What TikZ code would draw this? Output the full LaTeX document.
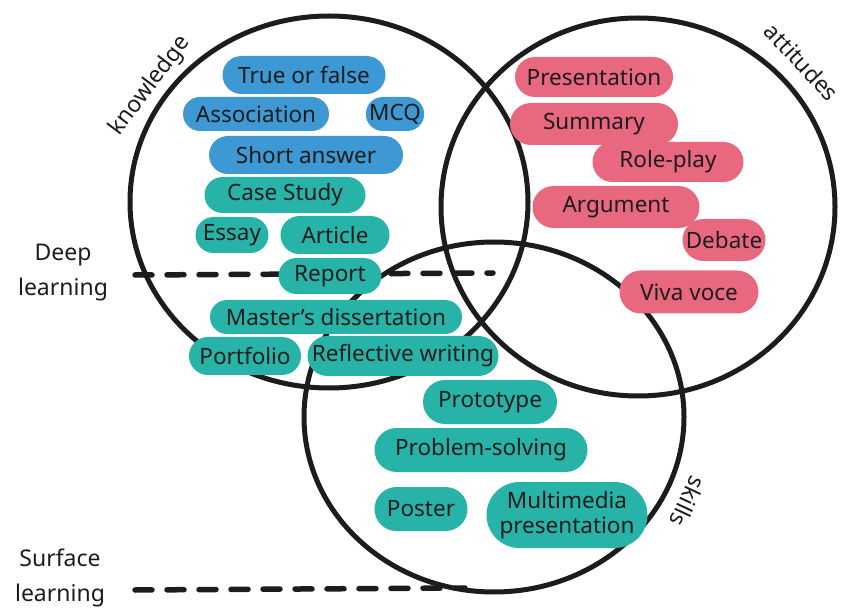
\documentclass[tikz,border=0pt]{standalone}
\usepackage{fontspec}
\setmainfont{Noto Sans}
\usetikzlibrary{shapes.misc,shapes.geometric}
\definecolor{ink}{HTML}{1C1C1C}
\definecolor{pblue}{HTML}{3E98D3}
\definecolor{pteal}{HTML}{27B3A7}
\definecolor{ppink}{HTML}{E8687F}
\begin{document}
\begin{tikzpicture}[x=1pt,y=-1pt,
  ring/.style={draw=ink, line width=5pt, ellipse, inner sep=0pt},
  pill/.style={rounded rectangle, inner sep=0pt, text=ink, align=center,
    font=\fontsize{22.5}{25}\selectfont},
  bluepill/.style={pill, fill=pblue},
  tealpill/.style={pill, fill=pteal},
  pinkpill/.style={pill, fill=ppink},
  sz/.style 2 args={minimum width=#1pt, minimum height=#2pt},
  lbl/.style={text=ink, align=center, font=\fontsize{23}{35}\selectfont},
  dashline/.style={draw=ink, line width=5.5pt, line cap=round, dash pattern=on 17pt off 15pt}]
\useasboundingbox (0,0) rectangle (841,612);
% circles
\node[ring, minimum width=398pt, minimum height=372pt] (know) at (329,202) {};
\node[ring, minimum width=394pt, minimum height=378pt] (att) at (638,207) {};
\node[ring, minimum width=380pt, minimum height=350pt] (skill) at (494,417) {};
% dashed learning lines
\coordinate (deepA) at (135,275);
\coordinate (deepB) at (493,273);
\coordinate (surfA) at (135,590);
\coordinate (surfB) at (465,588);
\draw[dashline] (deepA) -- (deepB);
\draw[dashline] (surfA) -- (surfB);
% blue pills
\node[bluepill, sz={163}{38}] (tf) at (304,75) {True or false};
\node[bluepill, sz={146}{34}] (assoc) at (256,114) {Association};
\node[bluepill, sz={56}{34}] (mcq) at (395,114) {MCQ};
\node[bluepill, sz={194}{38}] (short) at (306,155) {Short answer};
% teal pills
\node[tealpill, sz={161}{36}] (case) at (285,195) {Case Study};
\node[tealpill, sz={73}{36}] (essay) at (232,235) {Essay};
\node[tealpill, sz={109}{38}] (article) at (335,235) {Article};
\node[tealpill, sz={103}{36}] (report) at (330,276) {Report};
\node[tealpill, sz={252}{34}] (master) at (336,317) {Master’s dissertation};
\node[tealpill, sz={112}{38}] (portfolio) at (245,356) {Portfolio};
\node[tealpill, sz={191}{40}] (reflect) at (403,356) {Reflective writing};
\node[tealpill, sz={134}{44}] (proto) at (490,402) {Prototype};
\node[tealpill, sz={213}{44}] (problem) at (481,450) {Problem-solving};
\node[tealpill, sz={93}{44}] (poster) at (421,509) {Poster};
\node[tealpill, sz={161}{66}] (multi) at (567,515) {Multimedia\\presentation};
% pink pills
\node[pinkpill, sz={158}{40}] (pres) at (594,77) {Presentation};
\node[pinkpill, sz={168}{42}] (summary) at (594,124) {Summary};
\node[pinkpill, sz={151}{40}] (role) at (668,162) {Role-play};
\node[pinkpill, sz={167}{42}] (argument) at (616,207) {Argument};
\node[pinkpill, sz={83}{42}] (debate) at (724,240) {Debate};
\node[pinkpill, sz={139}{43}] (viva) at (689,292) {Viva voce};
% labels
\node[lbl, rotate=53] (lknow) at (150,86) {knowledge};
\node[lbl, rotate=-47] (latt) at (802,62) {attitudes};
\node[lbl, rotate=-115] (lskill) at (688,502) {skills};
\node[lbl] (ldeep) at (63,273) {Deep\\learning};
\node[lbl] (lsurf) at (60,578) {Surface\\learning};
\end{tikzpicture}
\end{document}
